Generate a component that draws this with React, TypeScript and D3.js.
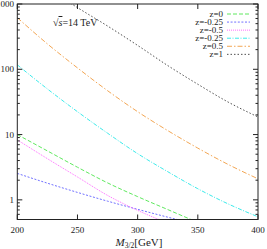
import React from 'react';
import * as d3 from 'd3';

// gravitino mass grid (GeV)
const masses = [200, 225, 250, 275, 300, 325, 350, 375, 400];

// cross sections (log axis)
const zZero = [10, 5.62, 3.16, 1.82, 1.12, 0.71, 0.45];
const zMinusQuarterA = [2.54, 1.8, 1.3, 0.955, 0.716, 0.543, 0.417];
const zMinusHalf = [8.3, 4.27, 2.24, 1.17, 0.69, 0.44];
const zMinusQuarterB = [117, 50, 22.4, 10.5, 5.1, 2.7, 1.48, 0.87, 0.55];
const zHalf = [617, 245, 105, 47, 22.4, 11.5, 6.2, 3.5, 2.1];
const zOne = [3400, 1750, 880, 460, 232, 114, 59, 31.6, 18.6];

const legendLabels = ['z=0', 'z=-0.25', 'z=-0.5', 'z=-0.25', 'z=0.5', 'z=1'];
const xTicks = [200, 250, 300, 350, 400];
const yTicks = [1, 10, 100, 1000];

const series = [
  { label: legendLabels[0], values: zZero, color: '#5fe85f', dash: '4,2' },
  { label: legendLabels[1], values: zMinusQuarterA, color: '#7070ff', dash: '2,1.6' },
  { label: legendLabels[2], values: zMinusHalf, color: '#ff6cff', dash: '1,1' },
  { label: legendLabels[3], values: zMinusQuarterB, color: '#3ceaea', dash: '4,1.5,1,1.5' },
  { label: legendLabels[4], values: zHalf, color: '#f2a654', dash: '5,2,1.5,2' },
  { label: legendLabels[5], values: zOne, color: '#505050', dash: '1.5,2' },
];

const W = 267;
const H = 249;
const left = 17.3;
const right = 258;
const top = 4;
const bottom = 219.5;
const font = '"Liberation Serif", "DejaVu Serif", serif';

export default function App() {
  const x = d3.scaleLinear().domain([200, 400]).range([left, right]);
  const y = d3.scaleLog().domain([0.5, 1000]).range([bottom, top]);

  const line = d3
    .line<[number, number]>()
    .x((d) => x(d[0]))
    .y((d) => y(d[1]))
    .curve(d3.curveMonotoneX);

  // minor ticks for the log axis
  const minor: number[] = [];
  [0.1, 1, 10, 100].forEach((dec) => {
    for (let k = 2; k <= 9; k++) {
      const v = dec * k;
      if (v >= 0.5 && v < 1000) minor.push(v);
    }
  });

  const legendY = (i: number) => 14 + i * 8.07;

  return (
    <svg
      width={W}
      height={H}
      style={{ position: 'absolute', left: 0, top: 0, background: '#fff' }}
      fontFamily={font}
    >
      <defs>
        <clipPath id="plot">
          <rect x={left} y={top} width={right - left} height={bottom - top} />
        </clipPath>
      </defs>

      <g clipPath="url(#plot)">
        {series.map((s, i) => (
          <path
            key={i}
            d={line(s.values.map((v, j) => [masses[j], v] as [number, number])) || ''}
            fill="none"
            stroke={s.color}
            strokeWidth={1}
            strokeDasharray={s.dash}
          />
        ))}
      </g>

      {/* frame */}
      <rect x={left} y={top} width={right - left} height={bottom - top} fill="none" stroke="#222" strokeWidth={1} />

      {/* x ticks */}
      {xTicks.map((t) => (
        <g key={t}>
          <line x1={x(t)} x2={x(t)} y1={bottom} y2={bottom - 5} stroke="#222" />
          <line x1={x(t)} x2={x(t)} y1={top} y2={top + 5} stroke="#222" />
          <text x={x(t)} y={233} fontSize={9} textAnchor="middle" fill="#222">
            {t}
          </text>
        </g>
      ))}

      {/* y ticks */}
      {yTicks.map((t) => (
        <g key={t}>
          <line x1={left} x2={left + 5} y1={y(t)} y2={y(t)} stroke="#222" />
          <line x1={right} x2={right - 5} y1={y(t)} y2={y(t)} stroke="#222" />
          <text x={14} y={y(t) + 3} fontSize={9} textAnchor="end" fill="#222">
            {t}
          </text>
        </g>
      ))}
      {minor.map((t) => (
        <g key={'m' + t}>
          <line x1={left} x2={left + 2.5} y1={y(t)} y2={y(t)} stroke="#222" />
          <line x1={right} x2={right - 2.5} y1={y(t)} y2={y(t)} stroke="#222" />
        </g>
      ))}

      <text x={53} y={26} fontSize={10} fill="#222">
        √<tspan textDecoration="overline" fontStyle="italic">s</tspan>=14 TeV
      </text>

      {/* legend */}
      {series.map((s, i) => (
        <g key={'l' + i}>
          <text x={223} y={legendY(i) + 3} fontSize={9} textAnchor="end" fill="#222">
            {s.label}
          </text>
          <line
            x1={227}
            x2={250}
            y1={legendY(i)}
            y2={legendY(i)}
            stroke={s.color}
            strokeWidth={1}
            strokeDasharray={s.dash}
          />
        </g>
      ))}

      <text x={139} y={246} fontSize={11} textAnchor="middle" fill="#222">
        <tspan fontStyle="italic">M</tspan>
        <tspan fontSize={7.5} dy={2}>3/2</tspan>
        <tspan dy={-2}>[GeV]</tspan>
      </text>
    </svg>
  );
}
